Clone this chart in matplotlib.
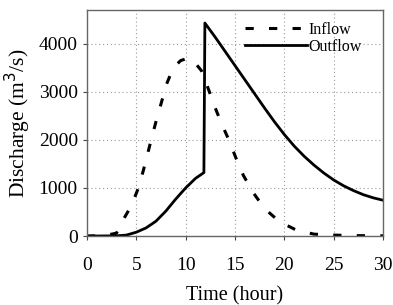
import matplotlib
matplotlib.use('Agg')
import matplotlib.pyplot as plt

plt.rcParams['font.family'] = ['Liberation Serif', 'DejaVu Serif']

# inflow hydrograph (hour, m3/s)
t_in = [0, 1, 2, 3, 3.5, 4.5, 5.2, 5.7, 6.15, 6.6, 7.05, 7.55, 8.05, 8.75, 9.5, 10.25, 10.8,
        11.6, 12.3, 12.95, 13.65, 14.4, 15.1, 15.85, 16.85, 18.0, 19.5, 21.2, 23, 25, 27, 30]
q_in = [0, 5, 20, 60, 275, 630, 990, 1350, 1710, 2070, 2420, 2780, 3150, 3500, 3650, 3700, 3640,
        3440, 3060, 2690, 2330, 1990, 1620, 1260, 900, 570, 300, 125, 40, 20, 10, 5]

# outflow hydrograph
t_out = [0, 3, 4, 5, 6, 7, 8, 9, 10, 10.5, 11, 11.5, 11.85, 11.95, 13, 14, 15, 16, 17, 18,
         19, 20, 21, 22, 23, 24, 25, 26, 27, 28, 29, 30]
q_out = [0, 5, 20, 80, 170, 310, 520, 770, 1000, 1100, 1200, 1270, 1320, 4430, 4135, 3840, 3545,
         3250, 2955, 2660, 2375, 2110, 1870, 1660, 1475, 1310, 1165, 1045, 945, 860, 795, 745]

fig = plt.figure(figsize=(3.93, 3.05), dpi=100)
ax = fig.add_axes([0.221, 0.226, 0.754, 0.741])

ax.plot(t_in, q_in, color='black', lw=2.2, linestyle=(0, (2.7, 5)), label='Inflow')
ax.plot(t_out, q_out, color='black', lw=2.0, label='Outflow')

ax.set_xlim(0, 30)
ax.set_ylim(0, 4700)
ax.set_xticks(range(0, 31, 5))
ax.set_yticks(range(0, 4001, 1000))
ax.grid(True, color='#999999', linestyle=(0, (1, 2.5)), lw=0.8)
ax.tick_params(direction='out', length=3, labelsize=14, color='#444444')
ax.tick_params(axis='x', pad=12)
for s in ax.spines.values():
    s.set_color('#666666')
    s.set_linewidth(1.0)

ax.set_xlabel('Time (hour)', fontsize=14.5, labelpad=9)
ax.set_ylabel('Discharge (m$^3$/s)', fontsize=15.5, labelpad=4)

leg = ax.legend(loc='upper right', frameon=False, fontsize=11.5, handlelength=3.9,
                handletextpad=0.1, labelspacing=0.05, borderaxespad=0.2,
                bbox_to_anchor=(0.96, 0.99))

fig.savefig('out.png', dpi=100)
